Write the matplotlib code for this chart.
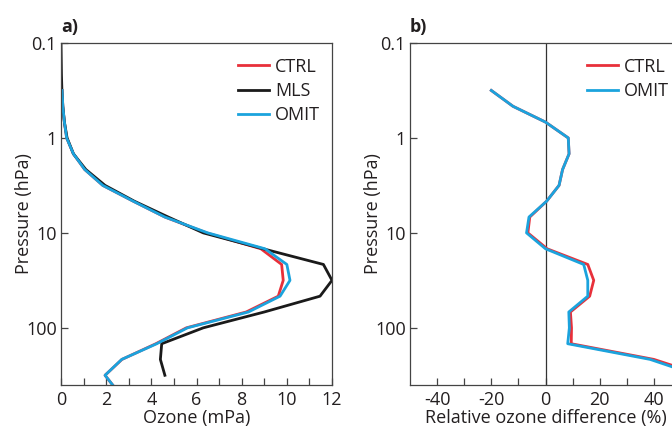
import numpy as np
import matplotlib
matplotlib.use("Agg")
from matplotlib import pyplot as plt

plt.rcParams['font.family'] = ['Open Sans', 'DejaVu Sans']
plt.rcParams['font.size'] = 13
plt.rcParams['axes.unicode_minus'] = False
txt = '#231f20'

# pressure levels (hPa), 6 per decade
p_all = [0.1, 0.147, 0.215, 0.316, 0.464, 0.681, 1.0, 1.47, 2.15, 3.16, 4.64, 6.81,
         10, 14.7, 21.5, 31.6, 46.4, 68.1, 100, 147, 215, 316, 464]

# panel a) ozone partial pressure (mPa)
mls = [0.0, 0.01, 0.02, 0.04, 0.08, 0.15, 0.27, 0.55, 1.1, 1.95, 3.25, 4.75,
       6.3, 8.95, 11.62, 12.0, 11.47, 9.0, 6.3, 4.46, 4.4, 4.6]
p_mls = p_all[:22]
p_mod = p_all[3:]
ctrl = [0.05, 0.08, 0.15, 0.25, 0.55, 1.05, 1.85, 3.2, 4.6,
        6.45, 8.85, 9.77, 9.84, 9.62, 8.2, 5.55, 4.2, 2.7, 1.95, 2.5]
omit = [0.05, 0.08, 0.15, 0.25, 0.55, 1.05, 1.85, 3.2, 4.6,
        6.5, 9.03, 10.0, 10.14, 9.7, 8.3, 5.6, 4.24, 2.69, 1.95, 2.5]

# panel b) relative ozone difference (%)
p_diff = p_all[3:22]
ctrl_d = [-20, -12, 0, 8.4, 8.7, 6.3, 5.0, 0.4, -5.8,
          -6.5, 0.6, 15.6, 17.8, 16.3, 9.2, 9.6, 9.5, 40, 58]
omit_d = [-20, -12, 0, 8.4, 8.7, 6.3, 5.0, 0.4, -6.1,
          -7.0, 0.0, 14.1, 15.6, 15.6, 8.6, 8.8, 8.2, 38.6, 56]

red = '#e8303a'
black = '#1a1a1a'
blue = '#1ba3dd'

fig = plt.figure(figsize=(6.72, 4.28), dpi=100)
ax1 = fig.add_axes([61 / 672, 43 / 428, 271 / 672, 342 / 428])
ax2 = fig.add_axes([410 / 672, 43 / 428, 271 / 672, 342 / 428])

ax1.plot(ctrl, p_mod, color=red, lw=2, label='CTRL')
ax1.plot(mls, p_mls, color=black, lw=2, label='MLS')
ax1.plot(omit, p_mod, color=blue, lw=2, label='OMIT')
ax1.set_xlim(0, 12)
ax1.set_xticks(np.arange(0, 13, 2))
ax1.set_xticks(np.arange(0, 13, 1), minor=True)
ax1.set_xlabel('Ozone (mPa)', color=txt, labelpad=0)

ax2.axvline(0, color='#333333', lw=0.9)
ax2.plot(ctrl_d, p_diff, color=red, lw=2, label='CTRL')
ax2.plot(omit_d, p_diff, color=blue, lw=2, label='OMIT')
ax2.set_xlim(-50, 50)
ax2.set_xticks(np.arange(-40, 41, 20))
ax2.set_xticks(np.arange(-40, 41, 10), minor=True)
ax2.set_xlabel('Relative ozone difference (%)', color=txt, labelpad=0)

for ax, tag in [(ax1, 'a)'), (ax2, 'b)')]:
    ax.set_yscale('log')
    ax.set_ylim(400, 0.1)
    ax.set_yticks([0.1, 1, 10, 100])
    ax.set_yticklabels(['0.1', '1', '10', '100'])
    ax.yaxis.set_minor_locator(matplotlib.ticker.NullLocator())
    ax.set_ylabel('Pressure (hPa)', color=txt, va='center')
    ax.yaxis.set_label_coords(-0.137, 0.5)
    ax.tick_params(which='both', direction='in', length=5, width=0.9,
                   colors='#444444', labelcolor=txt)
    ax.tick_params(axis='x', pad=4)
    ax.tick_params(axis='y', pad=3)
    for s in ax.spines.values():
        s.set_color('#444444')
        s.set_linewidth(0.9)
    ax.text(0, 1.02, tag, transform=ax.transAxes, fontsize=13,
            fontweight='bold', color=txt, ha='left', va='bottom')
    ax.legend(loc='upper left', bbox_to_anchor=(177 / 271, 0.957), frameon=False,
              borderaxespad=0, borderpad=0, handlelength=1.72,
              handletextpad=0.33, labelspacing=0.35, labelcolor=txt)

fig.savefig('out.png', dpi=100)
